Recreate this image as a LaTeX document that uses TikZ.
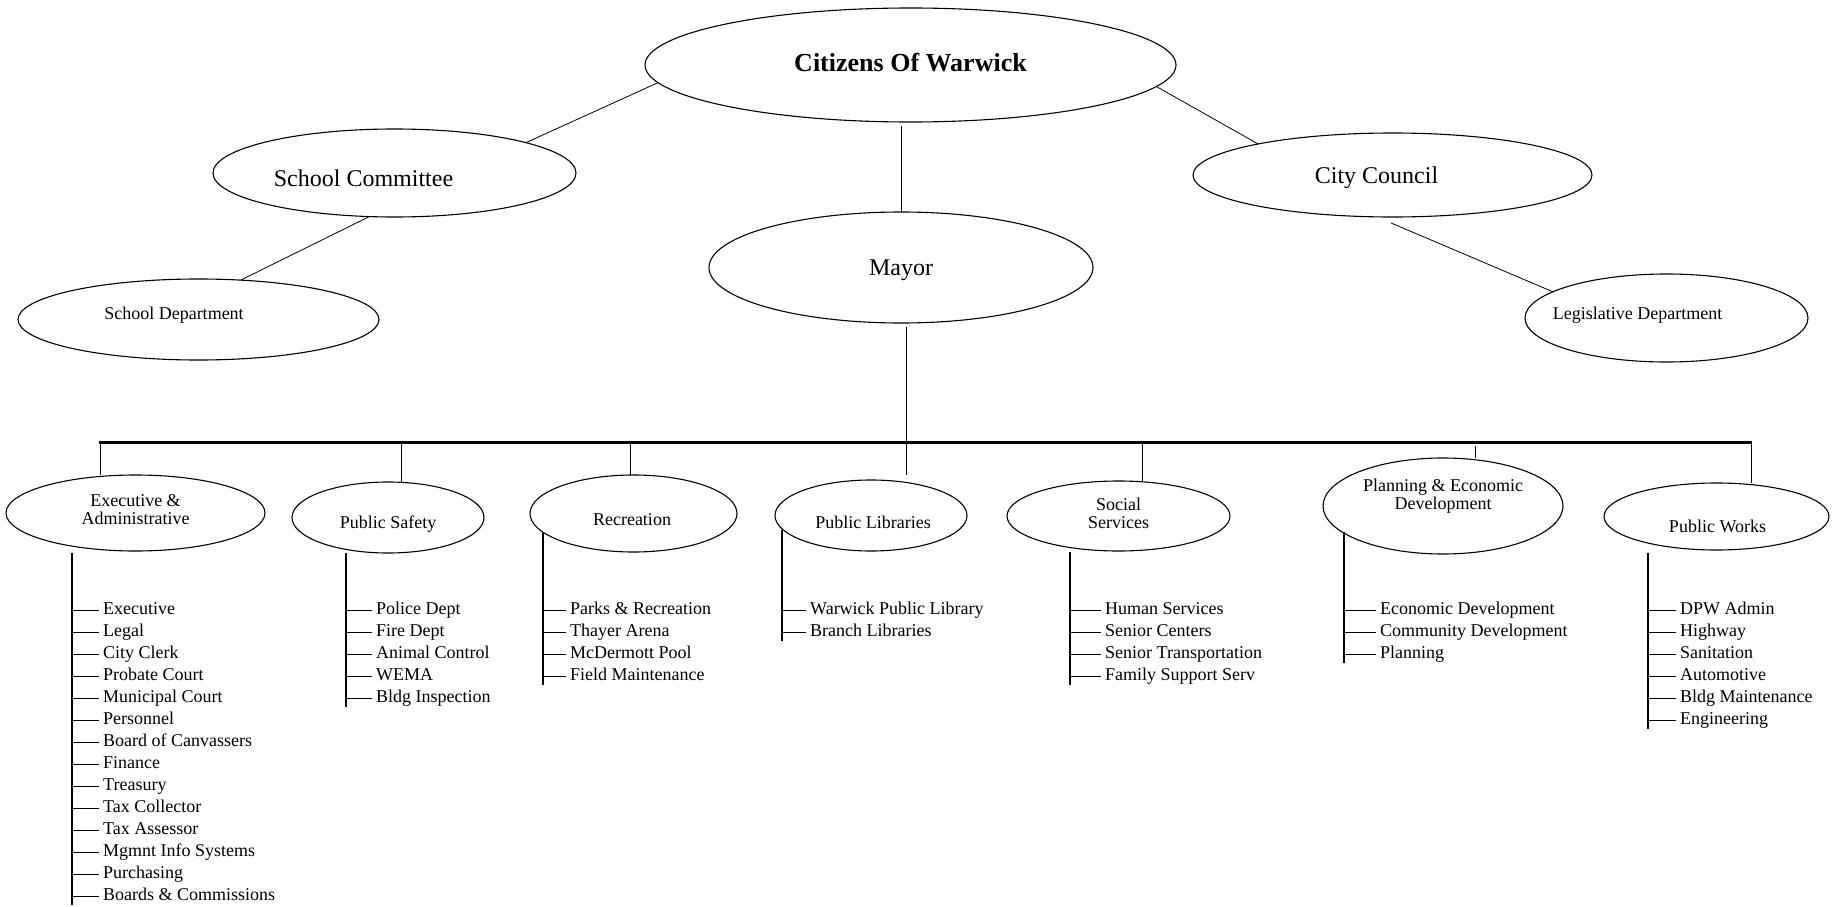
\documentclass[tikz,border=0pt]{standalone}
\usepackage{fontspec}
\setmainfont{Liberation Serif}
\usetikzlibrary{shapes.geometric}

\begin{document}
\begin{tikzpicture}[
    x=1pt, y=-1pt,
    oval/.style={draw, ellipse, line width=1.1pt, inner sep=0pt, outer sep=0pt},
    big/.style={font=\fontsize{26}{30}\selectfont\bfseries},
    mid/.style={font=\fontsize{24}{28}\selectfont},
    small/.style={font=\fontsize{18}{18}\selectfont, align=center},
    item/.style={font=\fontsize{18}{22}\selectfont, anchor=west, inner xsep=4pt, inner ysep=0pt,
      text height=12pt, text depth=3pt},
    link/.style={line width=0.8pt},
    stem/.style={line width=2pt}]
  \useasboundingbox (0,0) rectangle (1832,907);

  \node[oval, minimum width=531pt, minimum height=114pt] (cit) at (910.5,65) {};
  \node[big] (cit-t) at ([yshift=2.5pt]cit.center) {Citizens Of Warwick};
  \node[oval, minimum width=363pt, minimum height=88pt] (sc) at (394.5,173) {};
  \node[mid] (sc-t) at ([xshift=-31pt, yshift=-5.5pt]sc.center) {School Committee};
  \node[oval, minimum width=361pt, minimum height=81pt] (sd) at (198.5,319.5) {};
  \node[small] (sd-t) at ([xshift=-24.5pt, yshift=4.5pt]sd.center) {School Department};
  \node[oval, minimum width=384pt, minimum height=111pt] (mayor) at (901,267.5) {};
  \node[mid] (mayor-t) at ([yshift=-3pt]mayor.center) {Mayor};
  \node[oval, minimum width=399pt, minimum height=84pt] (cc) at (1392.5,175) {};
  \node[mid] (cc-t) at ([xshift=-16pt, yshift=-2.5pt]cc.center) {City Council};
  \node[oval, minimum width=283pt, minimum height=88pt] (leg) at (1666.5,318) {};
  \node[small] (leg-t) at ([xshift=-29pt, yshift=3pt]leg.center) {Legislative Department};

  \draw[link] (cit.184) -- (sc.13);
  \draw[link] (sc.240) -- (sd.43);
  \draw[link] (cit.-5) -- (cc.167);
  \draw[link] ([yshift=-6pt]cc.268) -- (leg.167);
  \draw[link] (mayor.north |- cit.south) ++(0,4) -- (mayor.north);

  \foreach \nm/\x/\y/\w/\h/\dx/\dy/\txt in {
      exec/135.5/513/259/76/0/3.5/{Executive \&\\Administrative},
      safety/388/517.5/192/71/0/-6.5/{Public Safety},
      rec/633.5/513.5/207/77/-1.5/-6/{Recreation},
      lib/871/515.5/192/71/2/-7/{Public Libraries},
      social/1118.5/516/223/70/0/3/{Social\\Services},
      plan/1443/506/240/96/0/10/{Planning \& Economic\\Development},
      pw/1716.5/516.5/225/67/1/-9.5/{Public Works}} {
    \node[oval, minimum width=\w pt, minimum height=\h pt] (\nm) at (\x,\y) {};
    \node[small] (\nm-t) at ([xshift=\dx pt, yshift=\dy pt]\nm.center) {\txt};
  }

  \draw[line width=3pt] (99,442) coordinate (barL) -- (1752,442) coordinate (barR);
  \coordinate (mb) at (906,475);
  \draw[link] (mb |- mayor.south) ++(0,4) -- (mb);
  \foreach \nm/\x in {exec/100, safety/401, rec/630, social/1142, pw/1751} {
    \coordinate (s-\nm) at (\x,442);
    \draw[link] (s-\nm) -- (s-\nm |- \nm.north);
  }
  \coordinate (s-plan) at (1475,446);
  \draw[link] (s-plan) -- (s-plan |- plan.north);

  \foreach \nm/\x/\tx/\top/\n/\lst in {
      exec/72/99/553/14/{Executive,Legal,City Clerk,Probate Court,Municipal Court,Personnel,Board of Canvassers,Finance,Treasury,Tax Collector,Tax Assessor,Mgmnt Info Systems,Purchasing,Boards \& Commissions},
      safety/346/372/553/5/{Police Dept,Fire Dept,Animal Control,WEMA,Bldg Inspection},
      rec/543/566/533/4/{Parks \& Recreation,Thayer Arena,McDermott Pool,Field Maintenance},
      lib/782/806/530/2/{Warwick Public Library,Branch Libraries},
      social/1070/1101/552/4/{Human Services,Senior Centers,Senior Transportation,Family Support Serv},
      plan/1344/1376/532/3/{Economic Development,Community Development,Planning},
      pw/1648/1676/553/6/{DPW Admin,Highway,Sanitation,Automotive,Bldg Maintenance,Engineering}} {
    \coordinate (\nm-top) at (\x,\top);
    \foreach \t [count=\i] in \lst {
      \node[item] (\nm-\i) at (\tx,588+22*\i) {\t};
      \draw[link] (\nm-\i.west -| \nm-top) -- (\nm-\i.west);
    }
    \draw[stem] (\nm-top) -- ([yshift=-9pt]\nm-\n.west -| \nm-top);
  }
\end{tikzpicture}
\end{document}
